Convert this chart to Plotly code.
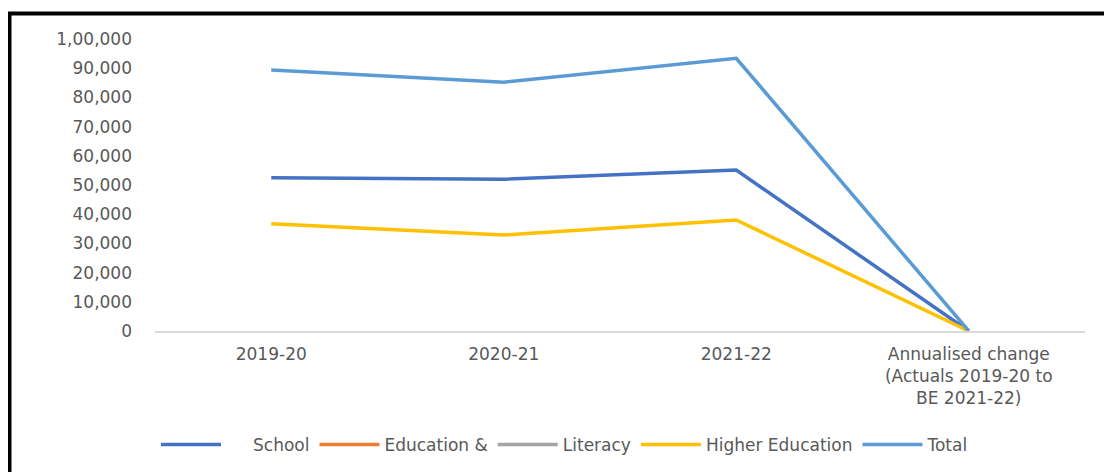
import plotly.graph_objects as go

categories = ["2019-20", "2020-21", "2021-22",
              "Annualised change<br>(Actuals 2019-20 to<br>BE 2021-22)"]
school = [52500, 52000, 55100, 2.5]
education_and = [None, None, None, None]
literacy = [None, None, None, None]
higher_education = [36700, 32900, 38000, 1.9]
total = [89400, 85200, 93400, 2.2]

y_ticks = [0, 10000, 20000, 30000, 40000, 50000, 60000, 70000, 80000, 90000, 100000]
y_tick_labels = ["0", "10,000", "20,000", "30,000", "40,000", "50,000",
                 "60,000", "70,000", "80,000", "90,000", "1,00,000"]

NB = "\u00a0"
series = [
    (NB * 5 + "School", school, "#4472C4"),
    ("Education &", education_and, "#ED7D31"),
    ("Literacy", literacy, "#A5A5A5"),
    ("Higher Education", higher_education, "#FFC000"),
    ("Total", total, "#5B9BD5"),
]

fig = go.Figure()
for name, vals, color in series:
    fig.add_trace(go.Scatter(
        x=categories, y=vals, name=name, mode="lines",
        line=dict(color=color, width=3.5),
        showlegend=True,
    ))

# page has an 8px body margin; work in screen pixels and shift
OFF = 8
W, H = 1112 - OFF, 472 - OFF
L, R, T, B = 155 - OFF, 27, 39 - OFF, 141
pw = W - L - R
ph = H - T - B

def px_x(p):
    return (p - OFF - L) / pw

def px_y(p):
    return (H - B - (p - OFF)) / ph

font_family = "DejaVu Sans"
grey = "#595959"

fig.update_layout(
    width=W, height=H,
    margin=dict(l=L, r=R, t=T, b=B, autoexpand=False),
    paper_bgcolor="white", plot_bgcolor="white",
    font=dict(family=font_family, size=17, color=grey),
    xaxis=dict(
        type="category", range=[-0.5, 3.5],
        showgrid=False, showline=True, linecolor="#D9D9D9", linewidth=1.5,
        ticks="", tickfont=dict(size=17, color=grey),
        ticklabelstandoff=7,
    ),
    yaxis=dict(
        range=[0, 100000], tickvals=y_ticks, ticktext=y_tick_labels,
        showgrid=False, zeroline=False, showline=False, ticks="",
        tickfont=dict(size=17, color=grey), ticklabelstandoff=22,
    ),
    legend=dict(
        orientation="h", x=px_x(565), xanchor="center",
        y=px_y(445), yanchor="middle",
        font=dict(size=17, color=grey), itemwidth=60,
        bgcolor="rgba(0,0,0,0)", tracegroupgap=0,
    ),
    shapes=[dict(
        type="rect", xref="paper", yref="paper",
        x0=px_x(9.5), x1=px_x(1130), y0=px_y(13.5), y1=px_y(490),
        line=dict(color="black", width=4), fillcolor="rgba(0,0,0,0)",
        layer="below",
    )],
)

fig.write_html("out.html")
